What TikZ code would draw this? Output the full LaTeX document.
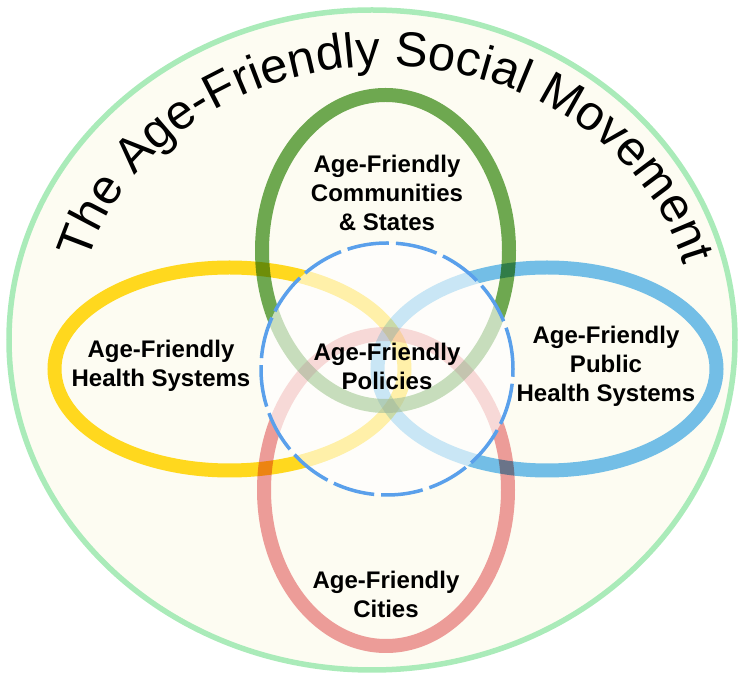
\documentclass[tikz,border=0pt]{standalone}
\usepackage{fontspec}
\setmainfont{Liberation Sans}
\usepackage{tikz}
\usetikzlibrary{decorations.text}

\definecolor{outerline}{RGB}{170,235,185}
\definecolor{cream}{RGB}{253,252,242}
\definecolor{ringgreen}{RGB}{110,168,80}
\definecolor{ringyellow}{RGB}{255,216,30}
\definecolor{ringblue}{RGB}{115,190,230}
\definecolor{ringred}{RGB}{236,156,152}
\definecolor{dashblue}{RGB}{90,160,235}

\begin{document}
\begin{tikzpicture}[x=1pt, y=1pt,
  ring/.style={line width=14pt},
  label/.style={align=center, font=\fontsize{24}{29}\selectfont\bfseries}]
\useasboundingbox (0,0) rectangle (740,675);
\draw[outerline, fill=cream, line width=5.5pt] (372,335) ellipse [x radius=363, y radius=330];
\path[decorate, decoration={text along path, text align=center,
  text={|\fontsize{49}{49}\selectfont|The Age-Friendly Social Movement}}]
  (385,345) ++(166:308 and 264) arc[start angle=166, end angle=13, x radius=308, y radius=264];
\begin{scope}[blend group=multiply]
\draw[ring, ringyellow] (229.5,306) ellipse [x radius=175, y radius=101.5];
\draw[ring, ringgreen] (385.5,424.5) ellipse [x radius=123.5, y radius=155.5];
\draw[ring, ringblue] (547,306) ellipse [x radius=169.5, y radius=101.5];
\draw[ring, ringred] (386,185) ellipse [x radius=122, y radius=156];
\end{scope}
\fill[white, opacity=0.62] (387,306) circle (126);
\draw[dashblue, line width=3.5pt, dash pattern=on 42pt off 7pt] (387,306) circle (126);
\node[label] (comm) at (387,482) {Age-Friendly\\Communities\\\& States};
\node[label] (health) at (161,309) {Age-Friendly\\Health Systems};
\node[label] (policies) at (387,309) {Age-Friendly\\Policies};
\node[label] (public) at (606,309) {Age-Friendly\\Public\\Health Systems};
\node[label] (cities) at (386,81) {Age-Friendly\\Cities};
\end{tikzpicture}
\end{document}
